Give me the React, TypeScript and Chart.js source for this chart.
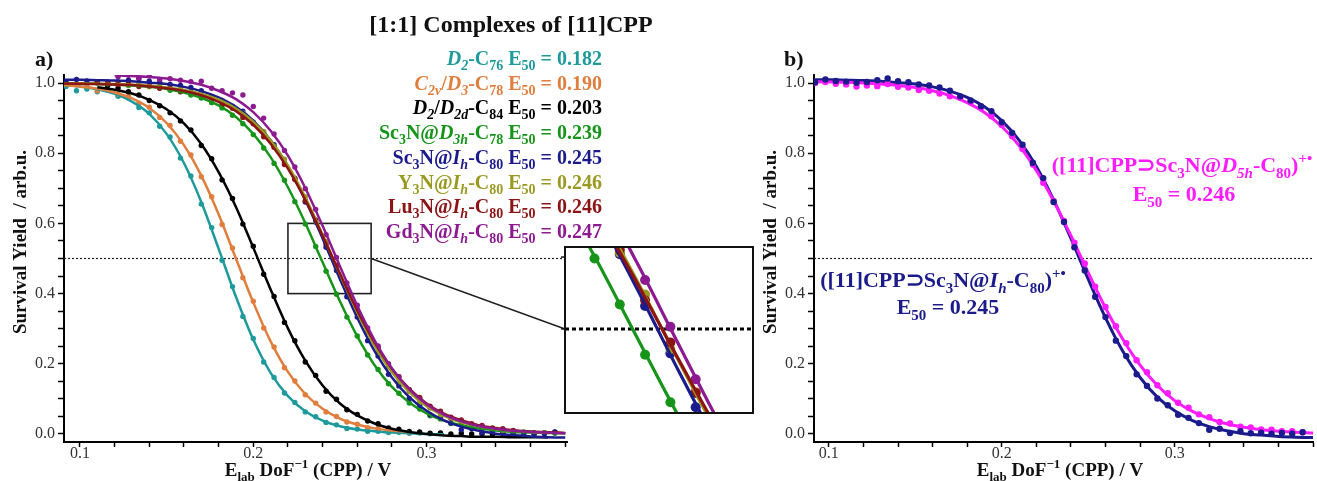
import React, { useEffect, useRef } from 'react';
import { Chart, registerables } from 'chart.js';

Chart.register(...registerables);

const FONT = '"Liberation Serif", "Times New Roman", serif';

// ---------- data ----------
// x grid of measured points (E_lab DoF^-1, V)
const POINT_X = [
  0.092, 0.098, 0.104, 0.110, 0.116, 0.122, 0.128, 0.134, 0.140, 0.146, 0.152, 0.158,
  0.164, 0.170, 0.176, 0.182, 0.188, 0.194, 0.200, 0.206, 0.212, 0.218, 0.224, 0.230,
  0.236, 0.242, 0.248, 0.254, 0.260, 0.266, 0.272, 0.278, 0.284, 0.290, 0.296, 0.302,
  0.308, 0.314, 0.320, 0.326, 0.332, 0.338, 0.344, 0.350, 0.356, 0.362, 0.368, 0.374,
];
// x grid of fitted curves
const FIT_X = [
  0.09, 0.10, 0.11, 0.12, 0.13, 0.14, 0.15, 0.16, 0.17, 0.18, 0.19, 0.20, 0.21, 0.22, 0.23,
  0.24, 0.25, 0.26, 0.27, 0.28, 0.29, 0.30, 0.31, 0.32, 0.33, 0.34, 0.35, 0.36, 0.37, 0.38,
];

const TEAL_PTS = [
  0.990, 0.978, 0.983, 0.975, 0.979, 0.962, 0.958, 0.930, 0.915, 0.877, 0.846, 0.786,
  0.735, 0.655, 0.588, 0.495, 0.420, 0.335, 0.272, 0.205, 0.161, 0.117, 0.090, 0.063,
  0.049, 0.033, 0.026, 0.016, 0.014, 0.008, 0.008, 0.004, 0.005, 0.002, 0.003, 0.001,
  0.002, null, null, null, null, null, null, null, null, null, null, null,
];
const ORANGE_PTS = [
  null, 0.995, 0.990, 0.978, 0.981, 0.968, 0.962, 0.942, 0.931, 0.902, 0.879, 0.834,
  0.795, 0.733, 0.676, 0.597, 0.530, 0.445, 0.378, 0.302, 0.248, 0.189, 0.151, 0.112,
  0.088, 0.063, 0.050, 0.034, 0.028, 0.018, 0.016, 0.009, 0.009, 0.004, null, null,
  null, null, null, null, null, null, null, null, null, null, null, null,
];
const BLACK_PTS = [
  null, null, null, null, 0.993, 0.986, 0.975, 0.966, 0.950, 0.935, 0.915, 0.892,
  0.866, 0.822, 0.784, 0.724, 0.671, 0.598, 0.535, 0.455, 0.392, 0.318, 0.266, 0.205,
  0.167, 0.122, 0.099, 0.069, 0.056, 0.037, 0.029, 0.017, 0.014, 0.007, 0.006, 0.002,
  0.003, 0.000, 0.002, 0.000, 0.001, -0.002, 0.001, 0.000, 0.002, -0.001, 0.003, 0.006,
];
const GREEN_PTS = [
  null, null, null, 1.000, 0.998, 0.996, 0.993, 0.994, 0.990, 0.986, 0.979, 0.975,
  0.966, 0.957, 0.944, 0.929, 0.908, 0.884, 0.853, 0.815, 0.771, 0.723, 0.662, 0.598,
  0.534, 0.464, 0.398, 0.333, 0.279, 0.225, 0.184, 0.143, 0.116, 0.088, 0.071, 0.052,
  0.043, 0.030, 0.026, 0.017, 0.015, 0.009, 0.009, 0.005, 0.006, 0.003, 0.004, 0.002,
];
const NAVY_PTS = [
  1.002, 1.010, 1.006, 1.004, 1.001, 1.003, 1.008, 1.013, 1.005, 1.002, 0.996, 0.993,
  0.987, 0.978, 0.962, 0.950, 0.934, 0.920, 0.888, 0.858, 0.824, 0.773, 0.729, 0.661,
  0.604, 0.532, 0.466, 0.391, 0.333, 0.266, 0.222, 0.170, 0.137, 0.101, 0.082, 0.055,
  0.046, 0.031, 0.012, 0.015, 0.003, 0.008, 0.002, 0.004, 0.001, 0.003, 0.001, 0.005,
];
const OLIVE_PTS = [
  null, null, null, 1.004, 0.999, 1.001, 0.995, 0.996, 0.990, 0.992, 0.984, 0.983,
  0.974, 0.970, 0.957, 0.950, 0.930, 0.915, 0.887, 0.862, 0.820, 0.783, 0.727, 0.676,
  0.606, 0.548, 0.472, 0.412, 0.342, 0.289, 0.231, 0.191, 0.148, 0.121, 0.090, 0.074,
  0.054, 0.045, 0.031, 0.027, 0.018, 0.016, 0.010, 0.009, null, null, null, null,
];
const DARKRED_PTS = [
  null, null, null, 1.002, 1.003, 0.996, 0.999, 0.990, 0.992, 0.985, 0.986, 0.976,
  0.974, 0.962, 0.957, 0.939, 0.928, 0.902, 0.884, 0.847, 0.817, 0.768, 0.725, 0.664,
  0.610, 0.540, 0.481, 0.411, 0.355, 0.292, 0.247, 0.197, 0.163, 0.126, 0.104, 0.079,
  0.065, 0.048, 0.040, 0.029, 0.024, 0.017, 0.015, 0.010, null, null, null, null,
];
const PURPLE_PTS = [
  null, null, null, null, null, 1.018, 1.022, 1.014, 1.020, 1.010, 1.012, 1.008,
  1.004, 1.005, 0.985, 0.978, 0.972, 0.966, 0.933, 0.900, 0.855, 0.808, 0.761, 0.699,
  0.640, 0.568, 0.503, 0.430, 0.367, 0.302, 0.251, 0.200, 0.163, 0.126, 0.101, 0.077,
  0.062, 0.045, 0.037, 0.026, 0.022, 0.015, 0.013, 0.008, null, null, null, null,
];
const MAGENTA_PTS = [
  1.000, 1.003, 0.998, 0.996, 0.990, 0.993, 0.991, 0.997, 0.989, 0.987, 0.980, 0.978,
  0.970, 0.962, 0.958, 0.945, 0.930, 0.905, 0.880, 0.848, 0.812, 0.768, 0.716, 0.664,
  0.607, 0.545, 0.486, 0.420, 0.362, 0.307, 0.259, 0.210, 0.176, 0.139, 0.116, 0.089,
  0.075, 0.056, 0.048, 0.034, 0.030, 0.021, 0.019, 0.013, 0.012, 0.008, 0.008, 0.005,
];

const TEAL_FIT = [
  0.994, 0.990, 0.982, 0.969, 0.947, 0.912, 0.855, 0.772, 0.661, 0.528, 0.391, 0.269, 0.174, 0.108, 0.065,
  0.038, 0.022, 0.013, 0.008, 0.004, 0.002, 0.000, -0.001, null, null, null, null, null, null, null,
];
const ORANGE_FIT = [
  0.994, 0.990, 0.984, 0.973, 0.956, 0.929, 0.886, 0.823, 0.736, 0.626, 0.500, 0.375, 0.264, 0.177, 0.114,
  0.072, 0.044, 0.027, 0.016, 0.010, 0.006, null, null, null, null, null, null, null, null, null,
];
const BLACK_FIT = [
  null, null, 0.988, 0.981, 0.970, 0.952, 0.925, 0.885, 0.826, 0.746, 0.647, 0.531, 0.412, 0.301, 0.209,
  0.138, 0.087, 0.053, 0.030, 0.015, 0.006, 0.000, -0.004, -0.006, -0.008, -0.008, -0.009, -0.009, -0.010, null,
];
const GREEN_FIT = [
  0.999, 0.998, 0.997, 0.996, 0.993, 0.989, 0.983, 0.973, 0.958, 0.936, 0.903, 0.855, 0.789, 0.703, 0.601,
  0.489, 0.378, 0.278, 0.196, 0.134, 0.090, 0.059, 0.038, 0.025, 0.016, 0.010, 0.006, 0.004, 0.003, 0.002,
];
const NAVY_FIT = [
  1.009, 1.009, 1.008, 1.007, 1.005, 1.001, 0.997, 0.989, 0.977, 0.959, 0.932, 0.893, 0.837, 0.762, 0.667,
  0.557, 0.441, 0.331, 0.236, 0.161, 0.105, 0.066, 0.039, 0.021, 0.009, 0.001, -0.003, -0.007, -0.009, -0.010,
];
const OLIVE_FIT = [
  0.999, 0.999, 0.998, 0.997, 0.995, 0.992, 0.987, 0.980, 0.969, 0.953, 0.927, 0.890, 0.837, 0.765, 0.674,
  0.568, 0.455, 0.346, 0.251, 0.176, 0.119, 0.079, 0.052, 0.033, 0.022, 0.014, 0.009, 0.006, 0.004, 0.002,
];
const DARKRED_FIT = [
  0.999, 0.998, 0.997, 0.996, 0.994, 0.990, 0.985, 0.977, 0.965, 0.946, 0.920, 0.881, 0.827, 0.756, 0.667,
  0.565, 0.457, 0.352, 0.261, 0.186, 0.129, 0.087, 0.058, 0.039, 0.025, 0.017, 0.011, 0.007, 0.005, 0.003,
];
const PURPLE_FIT = [
  null, null, null, 1.022, 1.020, 1.017, 1.013, 1.006, 0.995, 0.978, 0.954, 0.917, 0.864, 0.793, 0.701,
  0.593, 0.478, 0.365, 0.267, 0.187, 0.127, 0.085, 0.055, 0.036, 0.023, 0.015, 0.009, 0.006, 0.004, 0.002,
];
const MAGENTA_FIT = [
  1.004, 1.003, 1.002, 1.000, 0.997, 0.993, 0.987, 0.978, 0.964, 0.944, 0.916, 0.876, 0.822, 0.751, 0.664,
  0.565, 0.460, 0.359, 0.270, 0.196, 0.138, 0.095, 0.065, 0.044, 0.029, 0.019, 0.012, 0.008, 0.005, 0.003,
];

const E50_A = ['0.182', '0.190', '0.203', '0.239', '0.245', '0.246', '0.246', '0.247'];
const E50_B = ['0.246', '0.245'];

// ---------- styles ----------
const TEAL = '#1f9a9c';
const ORANGE = '#e07e3e';
const BLACK = '#000000';
const GREEN = '#17941a';
const NAVY = '#1b1b8c';
const OLIVE = '#9a9a22';
const DARKRED = '#8c1414';
const PURPLE = '#8c1a90';
const MAGENTA = '#ff1cff';

type Seg = [string, number];
const N = 0, I = 1, SB = 2, SBI = 3, SP = 4;

const LEGEND_NAMES: Seg[][] = [
  [['D', I], ['2', SBI], ['-C', N], ['76', SB]],
  [['C', I], ['2v', SBI], ['/', N], ['D', I], ['3', SBI], ['-C', N], ['78', SB]],
  [['D', I], ['2', SBI], ['/', N], ['D', I], ['2d', SBI], ['-C', N], ['84', SB]],
  [['Sc', N], ['3', SB], ['N@', N], ['D', I], ['3h', SBI], ['-C', N], ['78', SB]],
  [['Sc', N], ['3', SB], ['N@', N], ['I', I], ['h', SBI], ['-C', N], ['80', SB]],
  [['Y', N], ['3', SB], ['N@', N], ['I', I], ['h', SBI], ['-C', N], ['80', SB]],
  [['Lu', N], ['3', SB], ['N@', N], ['I', I], ['h', SBI], ['-C', N], ['80', SB]],
  [['Gd', N], ['3', SB], ['N@', N], ['I', I], ['h', SBI], ['-C', N], ['80', SB]],
];
const LEGEND_COLORS = [TEAL, ORANGE, BLACK, GREEN, NAVY, OLIVE, DARKRED, PURPLE];

const B_NAMES: Seg[][] = [
  [['([11]CPP⊃Sc', N], ['3', SB], ['N@', N], ['D', I], ['5h', SBI], ['-C', N], ['80', SB], [')', N], ['+•', SP]],
  [['([11]CPP⊃Sc', N], ['3', SB], ['N@', N], ['I', I], ['h', SBI], ['-C', N], ['80', SB], [')', N], ['+•', SP]],
];

const X_TITLE: Seg[] = [['E', N], ['lab', SB], [' DoF', N], ['\u22121', SP], [' (CPP) / V', N]];
const Y_TITLE = 'Survival Yield  / arb.u.';
const TITLE_A = '[1:1] Complexes of [11]CPP';

const INSET = { left: 565, top: 247, width: 188, height: 166, xMin: 0.223, xMax: 0.2676, yMin: 0.383, yMax: 0.614 };
const INSET_PAD = 10;

function drawRich(ctx: CanvasRenderingContext2D, segs: Seg[], x: number, y: number, size: number, color: string, align: 'left' | 'right' | 'center') {
  const font = (s: number) => {
    const small = s === SB || s === SBI || s === SP;
    const it = s === I || s === SBI;
    return `${it ? 'italic ' : ''}bold ${small ? Math.round(size * 0.68) : size}px ${FONT}`;
  };
  const off = (s: number) => (s === SB || s === SBI ? size * 0.25 : s === SP ? -size * 0.42 : 0);
  let w = 0;
  for (const [t, s] of segs) { ctx.font = font(s); w += ctx.measureText(t).width; }
  let cx = align === 'left' ? x : align === 'right' ? x - w : x - w / 2;
  ctx.save();
  ctx.fillStyle = color;
  ctx.textAlign = 'left';
  ctx.textBaseline = 'alphabetic';
  for (const [t, s] of segs) {
    ctx.font = font(s);
    ctx.fillText(t, cx, y + off(s));
    cx += ctx.measureText(t).width;
  }
  ctx.restore();
}

const toXY = (xs: number[], ys: (number | null)[]) =>
  xs.map((x, i) => ({ x, y: ys[i] })).filter((p) => p.y !== null && p.y !== undefined) as { x: number; y: number }[];

const lineDs = (fit: (number | null)[], color: string, width: number) => ({
  type: 'line' as const,
  data: toXY(FIT_X, fit),
  borderColor: color,
  backgroundColor: color,
  borderWidth: width,
  pointRadius: 0,
  showLine: true,
  fill: false,
  cubicInterpolationMode: 'monotone' as const,
});
const ptDs = (pts: (number | null)[], color: string, r: number) => ({
  type: 'scatter' as const,
  data: toXY(POINT_X, pts),
  backgroundColor: color,
  borderColor: color,
  borderWidth: 0,
  pointRadius: r,
  showLine: false,
});

const isMult = (v: number, m: number) => Math.abs(v / m - Math.round(v / m)) < 1e-6;

function xAxis(min: number, max: number) {
  return {
    type: 'linear' as const,
    min,
    max,
    border: { display: true, color: '#000', width: 2 },
    grid: { drawOnChartArea: false, drawTicks: true, tickLength: 5, tickColor: '#000', tickWidth: 1.5 },
    ticks: {
      stepSize: 0.02,
      includeBounds: false,
      autoSkip: false,
      maxRotation: 0,
      padding: -3,
      color: '#333',
      font: { family: FONT, size: 16 },
      callback: (v: any) => (isMult(Number(v), 0.1) ? Number(v).toFixed(1) : ''),
    },
    afterFit: (s: any) => { s.height = 39; },
  };
}
function yAxis() {
  return {
    type: 'linear' as const,
    min: -0.0228,
    max: 1.0228,
    border: { display: true, color: '#000', width: 2 },
    grid: { drawOnChartArea: false, drawTicks: true, tickLength: 6, tickColor: '#000', tickWidth: 1.5 },
    ticks: {
      stepSize: 0.05,
      includeBounds: false,
      autoSkip: false,
      padding: 3,
      color: '#333',
      font: { family: FONT, size: 16 },
      callback: (v: any) => {
        const n = Number(v);
        if (!isMult(n, 0.2)) return '';
        return Math.abs(n) < 1e-9 ? '0.0' : n.toFixed(1);
      },
    },
    afterFit: (s: any) => { s.width = 64; },
  };
}

function dotted05(chart: any) {
  const { ctx, chartArea, scales } = chart;
  const y = scales.y.getPixelForValue(0.5);
  ctx.save();
  ctx.strokeStyle = '#222';
  ctx.lineWidth = 1.2;
  ctx.setLineDash([2, 2]);
  ctx.beginPath();
  ctx.moveTo(chartArea.left, y);
  ctx.lineTo(chartArea.right, y);
  ctx.stroke();
  ctx.restore();
}

function axisTitles(ctx: CanvasRenderingContext2D, xCenter: number, yTitleX: number) {
  drawRich(ctx, X_TITLE, xCenter, 476, 19, '#111', 'center');
  ctx.save();
  ctx.translate(yTitleX, 242);
  ctx.rotate(-Math.PI / 2);
  drawRich(ctx, [[Y_TITLE, N]], 0, 0, 19, '#111', 'center');
  ctx.restore();
}

const SERIES_A = [
  { color: PURPLE, pts: PURPLE_PTS, fit: PURPLE_FIT },
  { color: DARKRED, pts: DARKRED_PTS, fit: DARKRED_FIT },
  { color: OLIVE, pts: OLIVE_PTS, fit: OLIVE_FIT },
  { color: NAVY, pts: NAVY_PTS, fit: NAVY_FIT },
  { color: GREEN, pts: GREEN_PTS, fit: GREEN_FIT },
  { color: BLACK, pts: BLACK_PTS, fit: BLACK_FIT },
  { color: ORANGE, pts: ORANGE_PTS, fit: ORANGE_FIT },
  { color: TEAL, pts: TEAL_PTS, fit: TEAL_FIT },
];
const SERIES_INSET = SERIES_A.slice(0, 5);

function configA(): any {
  return {
    type: 'scatter',
    data: {
      datasets: [
        ...SERIES_A.map((s) => lineDs(s.fit, s.color, 2.5)),
        ...SERIES_A.map((s) => ptDs(s.pts, s.color, 2.7)),
      ],
    },
    options: {
      animation: false,
      responsive: false,
      events: [],
      layout: { padding: { left: 0, right: 750, top: 75, bottom: 0 } },
      plugins: { legend: { display: false }, tooltip: { enabled: false } },
      scales: { x: xAxis(0.0908, 0.381), y: yAxis() },
    },
    plugins: [
      {
        id: 'annA',
        beforeDatasetsDraw(chart: any) {
          dotted05(chart);
          const { ctx, scales } = chart;
          const x0 = scales.x.getPixelForValue(0.22);
          const x1 = scales.x.getPixelForValue(0.268);
          const y0 = scales.y.getPixelForValue(0.6);
          const y1 = scales.y.getPixelForValue(0.4);
          ctx.save();
          ctx.strokeStyle = '#222';
          ctx.lineWidth = 1.6;
          ctx.strokeRect(x0, y0, x1 - x0, y1 - y0);
          const iy = INSET.top + ((INSET.yMax - 0.5) / (INSET.yMax - INSET.yMin)) * INSET.height;
          ctx.beginPath();
          ctx.moveTo(x1, scales.y.getPixelForValue(0.5));
          ctx.lineTo(INSET.left, iy);
          ctx.stroke();
          ctx.restore();
        },
        afterDraw(chart: any) {
          const ctx = chart.ctx as CanvasRenderingContext2D;
          drawRich(ctx, [['a)', N]], 35, 66, 22, '#111', 'left');
          drawRich(ctx, [[TITLE_A, N]], 511, 32, 24, '#111', 'center');
          LEGEND_NAMES.forEach((segs, i) => {
            drawRich(ctx, [...segs, [' E', N], ['50', SB], [' = ' + E50_A[i], N]], 602, 65 + i * 24.7, 20, LEGEND_COLORS[i], 'right');
          });
          axisTitles(ctx, 308, 26);
        },
      },
    ],
  };
}

function configB(): any {
  return {
    type: 'scatter',
    data: {
      datasets: [
        ptDs(NAVY_PTS, NAVY, 3.2),
        lineDs(MAGENTA_FIT, MAGENTA, 3),
        ptDs(MAGENTA_PTS, MAGENTA, 3.2),
        lineDs(NAVY_FIT, NAVY, 3),
      ],
    },
    options: {
      animation: false,
      responsive: false,
      events: [],
      layout: { padding: { left: 750, right: 2, top: 75, bottom: 0 } },
      plugins: { legend: { display: false }, tooltip: { enabled: false } },
      scales: { x: xAxis(0.0914, 0.380), y: yAxis() },
    },
    plugins: [
      {
        id: 'annB',
        beforeDatasetsDraw(chart: any) { dotted05(chart); },
        afterDraw(chart: any) {
          const ctx = chart.ctx as CanvasRenderingContext2D;
          drawRich(ctx, [['b)', N]], 784, 66, 22, '#111', 'left');
          drawRich(ctx, B_NAMES[0], 1182, 172, 22, MAGENTA, 'center');
          drawRich(ctx, [['E', N], ['50', SB], [' = ' + E50_B[0], N]], 1184, 201, 22, MAGENTA, 'center');
          drawRich(ctx, B_NAMES[1], 943, 287, 22, NAVY, 'center');
          drawRich(ctx, [['E', N], ['50', SB], [' = ' + E50_B[1], N]], 948, 314, 22, NAVY, 'center');
          axisTitles(ctx, 1060, 776);
        },
      },
    ],
  };
}

function configInset(): any {
  return {
    type: 'scatter',
    data: {
      datasets: [
        ...SERIES_INSET.map((s) => lineDs(s.fit, s.color, 3.2)),
        ...SERIES_INSET.map((s) => ptDs(s.pts, s.color, 5)),
      ],
    },
    options: {
      animation: false,
      responsive: false,
      events: [],
      layout: { padding: { left: INSET_PAD, right: INSET_PAD, top: 7, bottom: 7 } },
      plugins: { legend: { display: false }, tooltip: { enabled: false } },
      scales: {
        x: { type: 'linear', display: false, min: INSET.xMin, max: INSET.xMax },
        y: { type: 'linear', display: false, min: INSET.yMin, max: INSET.yMax },
      },
    },
    plugins: [
      {
        id: 'annInset',
        beforeDatasetsDraw(chart: any) {
          const { ctx, chartArea, scales } = chart;
          ctx.save();
          ctx.fillStyle = '#fff';
          ctx.fillRect(chartArea.left, chartArea.top, chartArea.right - chartArea.left, chartArea.bottom - chartArea.top);
          const y = scales.y.getPixelForValue(0.5);
          ctx.strokeStyle = '#000';
          ctx.lineWidth = 3;
          ctx.setLineDash([4, 3]);
          ctx.beginPath();
          ctx.moveTo(chartArea.left, y);
          ctx.lineTo(chartArea.right, y);
          ctx.stroke();
          ctx.restore();
        },
        afterDraw(chart: any) {
          const { ctx, chartArea, scales } = chart;
          ctx.save();
          ctx.strokeStyle = '#111';
          ctx.lineWidth = 2;
          ctx.strokeRect(chartArea.left, chartArea.top, chartArea.right - chartArea.left, chartArea.bottom - chartArea.top);
          ctx.lineWidth = 1.5;
          [0.5, 0.6].forEach((v) => {
            const y = scales.y.getPixelForValue(v);
            ctx.beginPath();
            ctx.moveTo(chartArea.left - 4, y);
            ctx.lineTo(chartArea.left, y);
            ctx.stroke();
          });
          ctx.restore();
        },
      },
    ],
  };
}

export default function App() {
  const aRef = useRef<HTMLCanvasElement>(null);
  const bRef = useRef<HTMLCanvasElement>(null);
  const iRef = useRef<HTMLCanvasElement>(null);
  useEffect(() => {
    const charts = [
      new Chart(aRef.current as HTMLCanvasElement, configA()),
      new Chart(bRef.current as HTMLCanvasElement, configB()),
      new Chart(iRef.current as HTMLCanvasElement, configInset()),
    ];
    return () => charts.forEach((c) => c.destroy());
  }, []);
  return (
    <div style={{ position: 'fixed', left: 0, top: 0, width: 1317, height: 481, background: '#fff', overflow: 'hidden' }}>
      <canvas ref={aRef} width={1317} height={481} style={{ position: 'absolute', left: 0, top: 0 }} />
      <canvas ref={bRef} width={1317} height={481} style={{ position: 'absolute', left: 0, top: 0 }} />
      <canvas
        ref={iRef}
        width={INSET.width + 2 * INSET_PAD}
        height={INSET.height + 14}
        style={{ position: 'absolute', left: INSET.left - INSET_PAD, top: INSET.top - 7 }}
      />
    </div>
  );
}
